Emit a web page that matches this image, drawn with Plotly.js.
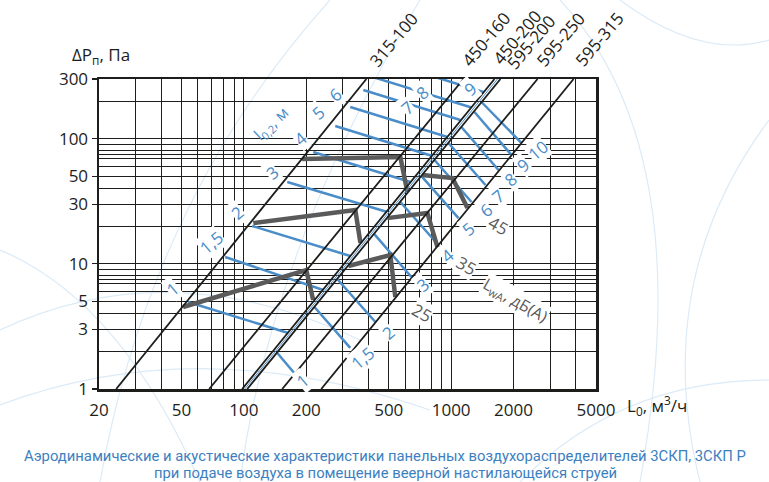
<!DOCTYPE html>
<html><head><meta charset="utf-8">
<script src="https://cdn.plot.ly/plotly-3.0.1.min.js"></script>
<style>html,body{margin:0;padding:0;background:#fff}#chart{width:769px;height:482px}</style>
</head><body><div id="chart"></div>
<script>
// Diffuser size lines: airflow L0 (m3/h) where the line crosses dP=1 Pa and dP=300 Pa
const sizeNames = ['315-100','450-160','450-200','595-200','595-250','595-315'];
const sizeLat1 = [24.2, 68.0, 98.1, 103.8, 153.1, 236.2];
const sizeLat300 = [390, 1147, 1619, 1730, 2612, 3898];
const sizeLabelL = [526, 1465, 2068, 2416, 3374, 5148];
const sizeLabelP = [626, 626, 649, 592, 615, 626];

// Throw distance l0,2 isolines, left group (315-100 .. 450-200)
const throwLeftNames = ['1','1,5','2','3','4','5','6','7','8','9'];
const throwLeftL1 = [53.8, 81.2, 109.7, 161.9, 216, 276, 326, 377, 385.6, 711];
const throwLeftP1 = [4.96, 11.34, 20.07, 45.1, 78.3, 126.3, 179.2, 245, 324.7, 338];
const throwLeftL2 = [163.7, 241.6, 326, 492, 636, 812, 960, 1109, 1254, 1433];
const throwLeftP2 = [2.80, 6.18, 11.55, 25.96, 45.1, 72.7, 103.2, 141.1, 177.6, 236];
const throwLeftLabelL = [45.6, 69.5, 92.8, 137, 187, 229, 276, 615, 727, 1240];
const throwLeftLabelP = [6.30, 14.95, 25.96, 54.2, 101.3, 163.4, 227.6, 179.2, 236, 254];

// Throw distance l0,2 isolines, right group (595-200 .. 595-315)
const throwRightNames = ['1','1,5','2','3','4','5','6','7','8','9','10'];
const throwRightL1 = [145, 219, 282, 426, 569, 719, 831, 971, 1121, 1296, 1401];
const throwRightP1 = [1.94, 4.52, 7.57, 17.3, 31.2, 50.3, 67.6, 92.4, 124.0, 163.4, 196.5];
const throwRightL2 = [219, 326, 431, 643, 868, 1085, 1254, 1465, 1692, 1956, 2186];
const throwRightP2 = [0.863, 2.13, 3.43, 7.85, 14.15, 23.2, 31.2, 42.7, 56.2, 74.1, 92.4];
const throwRightLabelL = [193, 377, 498, 735, 960, 1212, 1465, 1674, 1934, 2210, 2612];
const throwRightLabelP = [1.16, 1.77, 2.85, 6.78, 11.77, 19.3, 26.9, 34.8, 46.8, 61.6, 81.2];

// Sound power level LwA isolines, dB(A)
const lwaNames = ['25','35','45'];
const lwaLeftL = [[50.9, 200, 216], [111, 345, 365], [191, 569, 615]];
const lwaLeftP = [[4.52, 8.93, 5.14], [21.2, 26.9, 14.7], [68.8, 71.4, 37.5]];
const lwaRightL = [[319, 509, 538], [492, 768, 859], [727, 1015, 1199]];
const lwaRightP = [[9.61, 11.77, 5.43], [23.2, 25.5, 13.6], [51.3, 48.5, 27.9]];
const lwaLabelL = [719, 1186, 1692];
const lwaLabelP = [4.05, 9.79, 20.4];

// Axes
const xGrid = [20,30,40,50,60,70,80,90,100,200,300,400,500,600,700,800,900,1000,2000,3000,4000,5000];
const xLabeled = [20,50,100,200,500,1000,2000,5000];
const yGrid = [1,2,3,4,5,6,7,7.5,8,9,10,20,30,40,50,60,70,75,80,90,100,200,300];
const yLabeled = [1,3,5,10,30,50,100,300];

const BLUE = '#4a8dc8', GRAY = '#5a5a5a', BLACK = '#1d1d1b';
const FONT = 'Open Sans, Noto Sans, sans-serif';
const traces = [];

throwLeftNames.forEach((n, i) => traces.push({
  type: 'scatter', mode: 'lines', x: [throwLeftL1[i], throwLeftL2[i]], y: [throwLeftP1[i], throwLeftP2[i]],
  line: {color: BLUE, width: 2.5}, hoverinfo: 'skip'}));
throwRightNames.forEach((n, i) => traces.push({
  type: 'scatter', mode: 'lines', x: [throwRightL1[i], throwRightL2[i]], y: [throwRightP1[i], throwRightP2[i]],
  line: {color: BLUE, width: 2.5}, hoverinfo: 'skip'}));
lwaNames.forEach((n, i) => {
  traces.push({type: 'scatter', mode: 'lines', x: lwaLeftL[i], y: lwaLeftP[i], line: {color: GRAY, width: 4.5}, hoverinfo: 'skip'});
  traces.push({type: 'scatter', mode: 'lines', x: lwaRightL[i], y: lwaRightP[i], line: {color: GRAY, width: 4.5}, hoverinfo: 'skip'});
});
// thin blue line between the 450-200 and 595-200 lines
traces.push({type: 'scatter', mode: 'lines',
  x: [Math.sqrt(sizeLat1[2]*sizeLat1[3]), Math.sqrt(sizeLat300[2]*sizeLat300[3])], y: [1, 300],
  line: {color: BLUE, width: 1}, hoverinfo: 'skip'});
sizeNames.forEach((n, i) => traces.push({
  type: 'scatter', mode: 'lines', x: [sizeLat1[i], sizeLat300[i]], y: [1, 300],
  line: {color: BLACK, width: 1.8}, hoverinfo: 'skip'}));
// empty trace that carries the overlay axes used for the short tick marks
traces.push({type: 'scatter', mode: 'lines', x: [], y: [], xaxis: 'x2', yaxis: 'y2', hoverinfo: 'skip'});

const lg = Math.log10;
const xLo = lg(20), xHi = lg(5000), yTop = lg(300);
const ann = [];
sizeNames.forEach((n, i) => ann.push({xref: 'paper', yref: 'paper',
  x: (lg(sizeLabelL[i]) - xLo) / (xHi - xLo), y: lg(sizeLabelP[i]) / yTop,
  xanchor: 'center', yanchor: 'middle', text: n, showarrow: false,
  textangle: -50, font: {family: FONT, size: 17, color: BLACK}}));
throwLeftNames.forEach((n, i) => ann.push({x: lg(throwLeftLabelL[i]), y: lg(throwLeftLabelP[i]), text: n, showarrow: false,
  textangle: -40, bgcolor: '#fff', borderpad: 0, font: {family: FONT, size: 17, color: BLUE}}));
throwRightNames.forEach((n, i) => ann.push({x: lg(throwRightLabelL[i]), y: lg(throwRightLabelP[i]), text: n, showarrow: false,
  textangle: -40, bgcolor: '#fff', borderpad: 0, font: {family: FONT, size: 17, color: BLUE}}));
lwaNames.forEach((n, i) => ann.push({x: lg(lwaLabelL[i]), y: lg(lwaLabelP[i]), text: n, showarrow: false,
  textangle: 30, bgcolor: '#fff', borderpad: 0, font: {family: FONT, size: 17, color: GRAY}}));
ann.push({x: lg(2045), y: lg(5.14), text: 'L<sub>wA</sub>, дБ(А)', showarrow: false, textangle: 30,
  bgcolor: '#fff', borderpad: 0, font: {family: FONT, size: 16, color: GRAY}});
ann.push({x: lg(135.5), y: lg(133.5), text: 'l<sub>0,2</sub>, м', showarrow: false, textangle: -43,
  font: {family: FONT, size: 16, color: BLUE}});
// axis titles
ann.push({xref: 'paper', yref: 'paper', x: -0.058, y: 1.077, xanchor: 'left', yanchor: 'middle', showarrow: false,
  text: 'ΔP<sub>п</sub>, Па', font: {family: FONT, size: 17, color: BLACK}});
ann.push({xref: 'paper', yref: 'paper', x: 1.058, y: -0.052, xanchor: 'left', yanchor: 'middle', showarrow: false,
  text: 'L<sub>0</sub>, м<sup>3</sup>/ч', font: {family: FONT, size: 17, color: BLACK}});
// caption
const CAPFONT = {family: 'Roboto, sans-serif', size: 14.8, color: '#3d80c0'};
ann.push({xref: 'paper', yref: 'paper', x: 0.5755, y: -0.216, xanchor: 'center', yanchor: 'middle', showarrow: false,
  text: 'Аэродинамические и акустические характеристики панельных воздухораспределителей 3СКП, 3СКП Р',
  font: CAPFONT});
ann.push({xref: 'paper', yref: 'paper', x: 0.5755, y: -0.271, xanchor: 'center', yanchor: 'middle', showarrow: false,
  text: 'при подаче воздуха в помещение веерной настилающейся струей', font: CAPFONT});

// faint decorative background curves (watermark), page pixels -> paper units
const PL = 99, PT = 79, PW = 497, PH = 310;
const px = (x, y) => ((x - PL) / PW).toFixed(4) + ',' + ((PT + PH - y) / PH).toFixed(4);
const decoPaths = [
  'M' + px(0, 330) + ' Q' + px(170, 250) + ' ' + px(360, 340),
  'M' + px(0, 405) + ' Q' + px(200, 330) + ' ' + px(430, 410),
  'M' + px(0, 250) + ' Q' + px(120, 300) + ' ' + px(200, 482),
  'M' + px(100, 482) + ' Q' + px(150, 200) + ' ' + px(330, 0),
  'M' + px(240, 482) + ' Q' + px(270, 250) + ' ' + px(420, 0),
  'M' + px(560, 0) + ' Q' + px(700, 150) + ' ' + px(640, 482),
  'M' + px(769, 120) + ' Q' + px(650, 280) + ' ' + px(700, 482),
  'M' + px(520, 482) + ' Q' + px(620, 380) + ' ' + px(769, 380),
  'M' + px(620, 0) + ' Q' + px(700, 60) + ' ' + px(769, 40)
];
const shapes = decoPaths.map(p => ({type: 'path', xref: 'paper', yref: 'paper', path: p, layer: 'below',
  line: {color: '#dcebf7', width: 1.2}}));

const layout = {
  width: 769, height: 482, showlegend: false,
  margin: {l: PL, r: 769 - PL - PW, t: PT, b: 482 - PT - PH},
  paper_bgcolor: '#fff', plot_bgcolor: 'rgba(0,0,0,0)',
  xaxis: {type: 'log', range: [xLo, xHi], tickvals: xGrid,
    ticktext: xGrid.map(v => xLabeled.includes(v) ? String(v) : ''),
    showgrid: true, gridcolor: BLACK, gridwidth: 1, zeroline: false,
    showline: true, mirror: true, linecolor: BLACK, linewidth: 2.5, ticks: '',
    ticklabelstandoff: 4, tickfont: {family: FONT, size: 17, color: BLACK}},
  yaxis: {type: 'log', range: [0, yTop], tickvals: yGrid,
    ticktext: yGrid.map(v => yLabeled.includes(v) ? String(v) : ''),
    showgrid: true, gridcolor: BLACK, gridwidth: 1, zeroline: false,
    showline: true, mirror: true, linecolor: BLACK, linewidth: 2.5, ticks: '',
    ticklabelstandoff: 5, tickfont: {family: FONT, size: 17, color: BLACK}},
  xaxis2: {type: 'log', range: [xLo, xHi], overlaying: 'x', anchor: 'y2', showgrid: false, zeroline: false,
    showline: false, showticklabels: false, ticks: '', tickvals: xLabeled},
  yaxis2: {type: 'log', range: [0, yTop], overlaying: 'y', anchor: 'x2', side: 'left', showgrid: false, zeroline: false,
    showline: false, showticklabels: false, ticks: 'outside', ticklen: 6, tickwidth: 1.2, tickcolor: BLACK,
    tickvals: yLabeled},
  shapes: shapes,
  annotations: ann
};
Plotly.newPlot('chart', traces, layout, {staticPlot: true, displayModeBar: false});
</script></body></html>
